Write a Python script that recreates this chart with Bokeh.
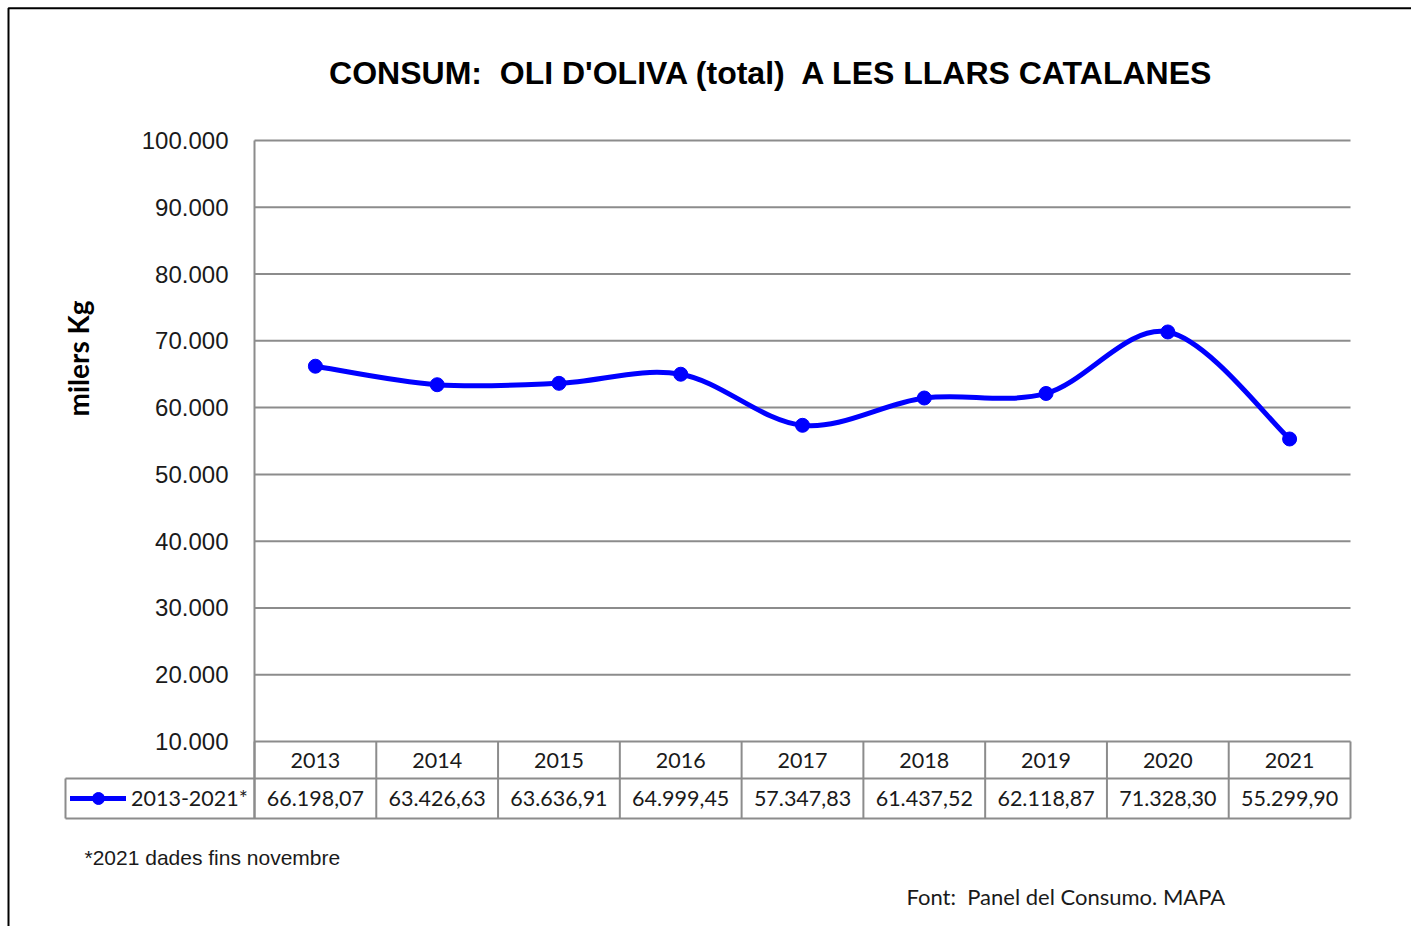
from bokeh.plotting import figure
from bokeh.models import Range1d, Label, BoxAnnotation, Legend, LegendItem, ColumnDataSource
from bokeh.core.properties import value
from bokeh.embed import file_html
from bokeh.resources import INLINE
import math

# ---------------- data ----------------
years = ["2013", "2014", "2015", "2016", "2017", "2018", "2019", "2020", "2021"]
consum = [66198.07, 63426.63, 63636.91, 64999.45, 57347.83, 61437.52, 62118.87, 71328.30, 55299.90]
series_name = "2013-2021*"
y_ticks = [10000, 20000, 30000, 40000, 50000, 60000, 70000, 80000, 90000, 100000]
y_tick_labels = ["10.000", "20.000", "30.000", "40.000", "50.000",
                 "60.000", "70.000", "80.000", "90.000", "100.000"]
NB = "\u00a0"
title_text = "CONSUM:" + NB + " OLI D'OLIVA (total)" + NB + " A LES LLARS CATALANES"
y_label = "milers Kg"
note_text = "*2021 dades fins novembre"
source_text = "Font:" + NB + " Panel del Consumo. MAPA"

# ---------------- geometry helpers (canvas pixels -> data) ----------------
W, H = 1411, 926
CELL = (1350 - 254) / 9.0
Y_PX = 601 / 90000.0           # px per unit (10.000 at y=741, 100.000 at y=140)

def dx(px):
    return (px - 254) / CELL

def dy(py):
    return 10000 + (741 - py) / Y_PX

GRAY = "#8c8c8c"
BLUE = "#0000ff"
TXT = "#1a1a1a"

p = figure(width=W, height=H, output_backend="svg", toolbar_location=None,
           x_range=Range1d(dx(0), dx(W)), y_range=Range1d(dy(H), dy(0)),
           min_border_left=0, min_border_right=0, min_border_top=0, min_border_bottom=0)
p.outline_line_color = None
p.background_fill_color = "white"
p.border_fill_color = "white"
p.axis.visible = False
p.grid.visible = False

n = len(consum)
xs = [i + 0.5 for i in range(n)]

# gridlines (one per y tick) and value axis line
p.segment([0] * len(y_ticks), y_ticks, [n] * len(y_ticks), y_ticks, line_color=GRAY, line_width=2)
p.segment([0], [dy(818)], [0], [y_ticks[-1]], line_color=GRAY, line_width=2)
p.text([dx(228)] * len(y_ticks), y_ticks, text=y_tick_labels, text_align="right",
       text_baseline="middle", text_font=value("Liberation Sans"), text_font_size="24px",
       text_color=TXT)

# ---------------- smoothed line (Catmull-Rom style bezier) ----------------
ys = consum
bz = dict(x0=[], y0=[], x1=[], y1=[], cx0=[], cy0=[], cx1=[], cy1=[])
for i in range(n - 1):
    i0 = max(i - 1, 0)
    i3 = min(i + 2, n - 1)
    bz["x0"].append(xs[i]); bz["y0"].append(ys[i])
    bz["x1"].append(xs[i + 1]); bz["y1"].append(ys[i + 1])
    bz["cx0"].append(xs[i] + (xs[i + 1] - xs[i0]) / 6.0)
    bz["cy0"].append(ys[i] + (ys[i + 1] - ys[i0]) / 6.0)
    bz["cx1"].append(xs[i + 1] - (xs[i3] - xs[i]) / 6.0)
    bz["cy1"].append(ys[i + 1] - (ys[i3] - ys[i]) / 6.0)
curve = p.bezier(x0="x0", y0="y0", x1="x1", y1="y1", cx0="cx0", cy0="cy0", cx1="cx1", cy1="cy1",
                 source=ColumnDataSource(bz), line_color=BLUE, line_width=5, line_cap="round")
pts = p.scatter(xs, ys, size=14, color=BLUE)

# ---------------- data table below the chart ----------------
row_top, row_mid, row_bot = 741, 778, 818
seg_x0, seg_x1, seg_y0, seg_y1 = [], [], [], []
for yy in (row_mid, row_bot):
    seg_x0.append(dx(65)); seg_x1.append(n); seg_y0.append(dy(yy)); seg_y1.append(dy(yy))
for i in range(n + 1):
    seg_x0.append(i); seg_x1.append(i); seg_y0.append(dy(row_top)); seg_y1.append(dy(row_bot))
seg_x0.append(dx(65)); seg_x1.append(dx(65)); seg_y0.append(dy(row_mid)); seg_y1.append(dy(row_bot))
p.segment(seg_x0, seg_y0, seg_x1, seg_y1, line_color=GRAY, line_width=2)

val_labels = [("{:,.2f}".format(v)).replace(",", "X").replace(".", ",").replace("X", ".") for v in consum]
p.text(xs, [dy(759.5)] * n, text=years, text_align="center", text_baseline="middle",
       text_font=value("Lato"), text_font_size="21.5px", text_color=TXT)
p.text(xs, [dy(798)] * n, text=val_labels, text_align="center", text_baseline="middle",
       text_font=value("Lato"), text_font_size="21.5px", text_color=TXT)

legend = Legend(items=[LegendItem(label=series_name, renderers=[curve, pts])],
                location=(70, H - row_bot + 5), padding=0, margin=0,
                glyph_width=56, glyph_height=30, label_standoff=5, spacing=0,
                label_text_font="Lato", label_text_font_size="21.5px", label_text_color=TXT,
                border_line_color=None, background_fill_alpha=0, label_height=30)
p.add_layout(legend)

# ---------------- texts ----------------
p.add_layout(Label(x=dx(771.5), y=dy(72), text=title_text, text_align="center",
                   text_baseline="middle", text_font="Liberation Sans", text_font_style="bold",
                   text_font_size="32px", text_color="black"))
p.add_layout(Label(x=dx(77), y=dy(358), text=y_label, angle=math.pi / 2, text_align="center",
                   text_baseline="middle", text_font="Lato", text_font_style="bold",
                   text_font_size="28px", text_color="black"))
p.add_layout(Label(x=dx(84), y=dy(857), text=note_text, text_align="left",
                   text_baseline="middle", text_font="Liberation Sans",
                   text_font_size="21px", text_color=TXT))
p.add_layout(Label(x=dx(906), y=dy(896), text=source_text, text_align="left",
                   text_baseline="middle", text_font="Lato",
                   text_font_size="22px", text_color=TXT))

# outer border of the chart area
p.add_layout(BoxAnnotation(left=dx(8), top=dy(7.7), right=dx(1600), bottom=dy(1100),
                           fill_color=None, fill_alpha=0, line_color="black",
                           line_alpha=1.0, line_width=2))

open("out.html", "w").write(file_html(p, INLINE))
